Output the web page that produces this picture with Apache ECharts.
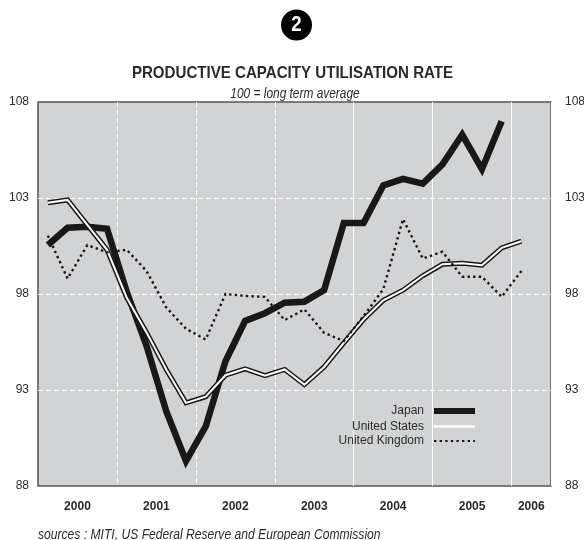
<!DOCTYPE html>
<html><head><meta charset="utf-8">
<style>html,body{margin:0;padding:0;background:#fff}#c{width:584px;height:540px}</style>
<script src="https://cdn.jsdelivr.net/npm/echarts@6/dist/echarts.min.js"></script>
</head><body><div id="c"></div>
<script>
const quarters = ['2000Q1','2000Q2','2000Q3','2000Q4','2001Q1','2001Q2','2001Q3','2001Q4','2002Q1','2002Q2','2002Q3','2002Q4','2003Q1','2003Q2','2003Q3','2003Q4','2004Q1','2004Q2','2004Q3','2004Q4','2005Q1','2005Q2','2005Q3','2005Q4','2006Q1','2006Q2'];
const japan = [100.55,101.45,101.5,101.4,98.1,95.3,91.9,89.3,91.1,94.5,96.6,97.0,97.55,97.6,98.2,101.7,101.7,103.65,104.0,103.75,104.75,106.3,104.5,107.0,null,null];
const unitedStates = [102.75,102.9,101.6,100.3,97.8,96.0,94.07,92.33,92.65,93.77,94.1,93.75,94.07,93.28,94.2,95.45,96.67,97.67,98.2,98.95,99.55,99.6,99.5,100.4,100.75,null];
const unitedKingdom = [101.04,98.8,100.55,100.17,100.3,99.2,97.3,96.19,95.63,98.0,97.9,97.85,96.64,97.2,95.98,95.55,96.85,98.25,101.9,99.85,100.2,98.9,98.9,97.85,99.2,null];
const yearLabels = ['2000','2001','2002','2003','2004','2005','2006'];
const yearQuarters = [4,4,4,4,4,4,2];

const FONT = '"Liberation Sans",Arial,sans-serif';
const INK = '#2b2b2b';
const yearAt = {};
let q = 0;
yearLabels.forEach((y,i)=>{ yearAt[q + yearQuarters[i]/2] = y; q += yearQuarters[i]; });

const gridAxis = (fn, type) => ({
  type:'category', data:quarters, boundaryGap:true, position:'bottom',
  axisLine:{show:false}, axisTick:{show:false}, axisLabel:{show:false},
  splitLine:{show:true, interval:fn, lineStyle:{color:'#ffffff', width:1, type}}
});
const valueAxis = (position, split, margin) => ({
  type:'value', position, min:88, max:108, interval:5,
  axisLine:{show:false}, axisTick:{show:false},
  axisLabel:{margin, color:INK, fontFamily:FONT, fontSize:12, align: position==='left'?'right':'left'},
  splitLine:{show:split, showMinLine:false, showMaxLine:false, lineStyle:{color:'#ffffff', width:1, type:[5,3]}}
});
const line = (name, data, color, width, extra) => ({
  name, type:'line', data, symbol:'none', silent:true, animation:false, connectNulls:false,
  lineStyle:Object.assign({color, width, join:'miter', cap:'butt', miterLimit:10}, extra||{}),
  itemStyle:{color}
});
const label = (text, cx, cy, font, scaleX, left) => ({
  type:'text', x:cx, y:cy, scaleX, z:10,
  style:{text, fill:INK, font:font+' '+FONT, align:left?'left':'center', verticalAlign:'middle'}
});
/* legend swatch: a bar of the given thickness inside a 14-unit tall frame */
const bar = h => `path://M0 0L0 0M0 ${7-h/2}H41V${7+h/2}H0ZM0 14L0 14`;

const chart = echarts.init(document.getElementById('c'), null, {renderer:'canvas'});
chart.setOption({
  animation:false,
  backgroundColor:'#ffffff',
  grid:{left:38, right:33, top:102, bottom:54, show:true, backgroundColor:'#d1d3d4', borderColor:'#555555', borderWidth:1.5, containLabel:false, outerBoundsMode:'none'},
  xAxis:[
    gridAxis(i=>i>0&&i<16&&i%4===0,[5,3]),
    gridAxis(i=>i>=16&&i%4===0,'solid'),
    {type:'value', position:'bottom', min:0, max:quarters.length, interval:1,
     axisLine:{show:false}, axisTick:{show:false}, splitLine:{show:false},
     axisLabel:{show:true, margin:15, showMinLabel:true, showMaxLabel:true, hideOverlap:false, color:INK, fontFamily:FONT, fontSize:12, fontWeight:'bold',
       formatter:v=>yearAt[v]||''}}
  ],
  yAxis:[valueAxis('left',true,9), valueAxis('right',false,14)],
  legend:{
    data:[
      {name:'Japan', icon:bar(6), itemStyle:{color:'#1a1718', opacity:1}},
      {name:'United States', icon:bar(2.5), itemStyle:{color:'#ffffff', opacity:1}},
      {name:'United Kingdom'}
    ],
    orient:'vertical', align:'right', right:103, top:399,
    itemWidth:41, itemHeight:14, itemGap:1.5, selectedMode:false, itemStyle:{opacity:0},
    textStyle:{fontFamily:FONT, fontSize:12, color:INK, padding:[0,5,0,0]}
  },
  series:[
    line('Japan', japan, '#1a1718', 6.5),
    line('United States outline', unitedStates, '#1a1718', 5),
    line('United States', unitedStates, '#ffffff', 2),
    line('United Kingdom', unitedKingdom, '#1a1718', 2.4, {type:[2.4,3.2]})
  ],
  graphic:[
    {type:'circle', shape:{cx:296.5, cy:25, r:15.5}, style:{fill:'#000000'}},
    {type:'text', x:296.5, y:25, scaleX:0.85, style:{text:'2', fill:'#ffffff', font:'bold 22px '+FONT, align:'center', verticalAlign:'middle'}},
    label('PRODUCTIVE CAPACITY UTILISATION RATE', 292.5, 73, 'bold 16.5px', 0.915),
    label('100 = long term average', 295, 94, 'italic 14px', 0.85),
    label('sources : MITI, US Federal Reserve and European Commission', 38, 535, 'italic 14px', 0.865, true)
  ]
});
</script></body></html>
